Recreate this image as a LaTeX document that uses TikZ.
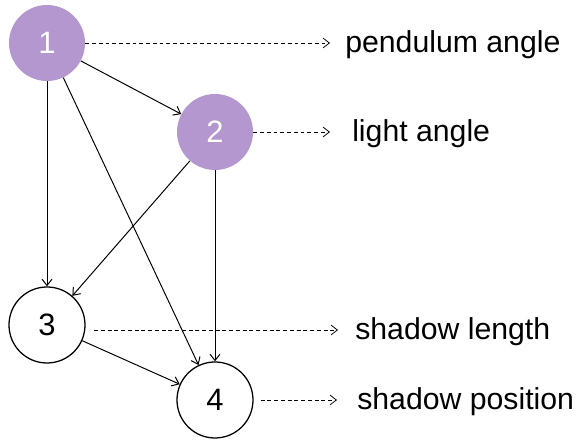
\documentclass[tikz,border=0pt]{standalone}
\usepackage{fontspec}
\setmainfont{Liberation Sans}
\usepackage{xcolor}
\usetikzlibrary{arrows.meta}
\definecolor{varpurple}{RGB}{180,151,207}

\begin{document}
\begin{tikzpicture}[x=0.025cm, y=-0.025cm,
  var/.style={circle, minimum size=1.9cm, inner sep=0pt, font=\fontsize{22}{26}\selectfont},
  hidden/.style={var, fill=varpurple, text=white},
  seen/.style={var, draw=black, line width=0.9pt},
  edge/.style={-{Straight Barb[length=4.5pt,width=7pt]}, line width=0.7pt},
  obs/.style={edge, line width=0.55pt, dash pattern=on 2.8pt off 2pt},
  lbl/.style={anchor=west, inner sep=0pt, font=\fontsize{21.5}{25}\selectfont}]
\useasboundingbox (0,0) rectangle (581,444);
% variables
\node[hidden] (n1) at (47,43) {1};
\node[hidden] (n2) at (215,132) {2};
\node[seen] (n3) at (47,325) {3};
\node[seen] (n4) at (215,400) {4};
% dependencies
\draw[edge] (n1) -- (n2);
\draw[edge] (n1) -- (n3);
\draw[edge] (n1) -- (n4);
\draw[edge] (n2) -- (n3);
\draw[edge] (n2) -- (n4);
\draw[edge] (n3) -- (n4);
% observed quantities
\coordinate (t1) at (330,43);
\coordinate (t2) at (330,132);
\coordinate (t3) at (338,330);
\coordinate (t4) at (337,400);
\draw[obs] (n1.east) -- (t1);
\draw[obs] (n2.east) -- (t2);
\draw[obs, shorten <=6pt] (n3.east |- t3) -- (t3);
\draw[obs, shorten <=5pt] (n4.east) -- (t4);
\node[lbl] (l1) at (345,45) {pendulum angle};
\node[lbl] (l2) at (352,134) {light angle};
\node[lbl] (l3) at (355,332) {shadow length};
\node[lbl] (l4) at (357,402) {shadow position};
\end{tikzpicture}
\end{document}
